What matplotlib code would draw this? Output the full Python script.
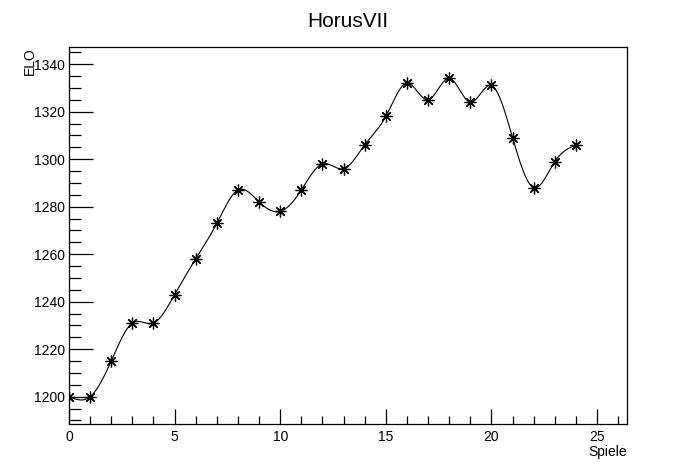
import numpy as np
import matplotlib.pyplot as plt
from matplotlib.ticker import MultipleLocator

# ELO per game
spiele = [0, 1, 2, 3, 4, 5, 6, 7, 8, 9, 10, 11, 12, 13, 14, 15, 16, 17, 18, 19, 20, 21, 22, 23, 24]
elo = [1200, 1200, 1215, 1231, 1231, 1243, 1258, 1273, 1287, 1282, 1278, 1287, 1298,
       1296, 1306, 1318, 1332, 1325, 1334, 1324, 1331, 1309, 1288, 1299, 1306]

plt.rcParams['font.family'] = ['Liberation Sans', 'DejaVu Sans']


def natural_spline(x, y, n=600):
    # smooth curve through the points, like ROOT's "C" draw option
    x = np.asarray(x, float)
    y = np.asarray(y, float)
    k = len(x)
    h = np.diff(x)
    A = np.zeros((k, k))
    b = np.zeros(k)
    A[0, 0] = A[-1, -1] = 1
    for i in range(1, k - 1):
        A[i, i - 1] = h[i - 1]
        A[i, i] = 2 * (h[i - 1] + h[i])
        A[i, i + 1] = h[i]
        b[i] = 3 * ((y[i + 1] - y[i]) / h[i] - (y[i] - y[i - 1]) / h[i - 1])
    c = np.linalg.solve(A, b)
    xs = np.linspace(x[0], x[-1], n)
    idx = np.clip(np.searchsorted(x, xs) - 1, 0, k - 2)
    dx = xs - x[idx]
    bb = (y[idx + 1] - y[idx]) / h[idx] - h[idx] * (2 * c[idx] + c[idx + 1]) / 3
    dd = (c[idx + 1] - c[idx]) / (3 * h[idx])
    ys = y[idx] + bb * dx + c[idx] * dx ** 2 + dd * dx ** 3
    return xs, ys


fig = plt.figure(figsize=(6.96, 4.72), dpi=100)
ax = fig.add_axes([0.0991, 0.1017, 0.9004 - 0.0991, 0.9004 - 0.1017])

xs, ys = natural_spline(spiele, elo)
ax.plot(xs, ys, color="black", lw=0.8)
ax.plot(spiele, elo, linestyle="none", marker=(8, 2, 0), markersize=8.5,
        markeredgewidth=0.9, color="black")

ax.set_xlim(0, 26.4)
ax.set_ylim(1188.5, 1347.2)

ax.xaxis.set_major_locator(MultipleLocator(5))
ax.xaxis.set_minor_locator(MultipleLocator(1))
ax.yaxis.set_major_locator(MultipleLocator(20))
ax.yaxis.set_minor_locator(MultipleLocator(5))
ax.tick_params(which="both", direction="in", top=False, right=False, labelsize=10, width=0.9)
ax.tick_params(axis="y", which="major", length=17, pad=3)
ax.tick_params(axis="y", which="minor", length=8.5)
ax.tick_params(axis="x", which="major", length=11, pad=4)
ax.tick_params(axis="x", which="minor", length=5.5)
for s in ax.spines.values():
    s.set_linewidth(0.9)

fig.text(0.5, 0.955, "HorusVII", ha="center", va="center", fontsize=15)
ax.set_xlabel("Spiele", fontsize=10)
ax.xaxis.set_label_coords(1.0, -0.075)
ax.xaxis.label.set_ha("right")
ax.xaxis.label.set_va("center")
ax.set_ylabel("ELO", fontsize=10)
ax.yaxis.set_label_coords(-0.07, 1.0)
ax.yaxis.label.set_ha("right")
ax.yaxis.label.set_va("center")

fig.savefig("out.png", dpi=100)
plt.close()
